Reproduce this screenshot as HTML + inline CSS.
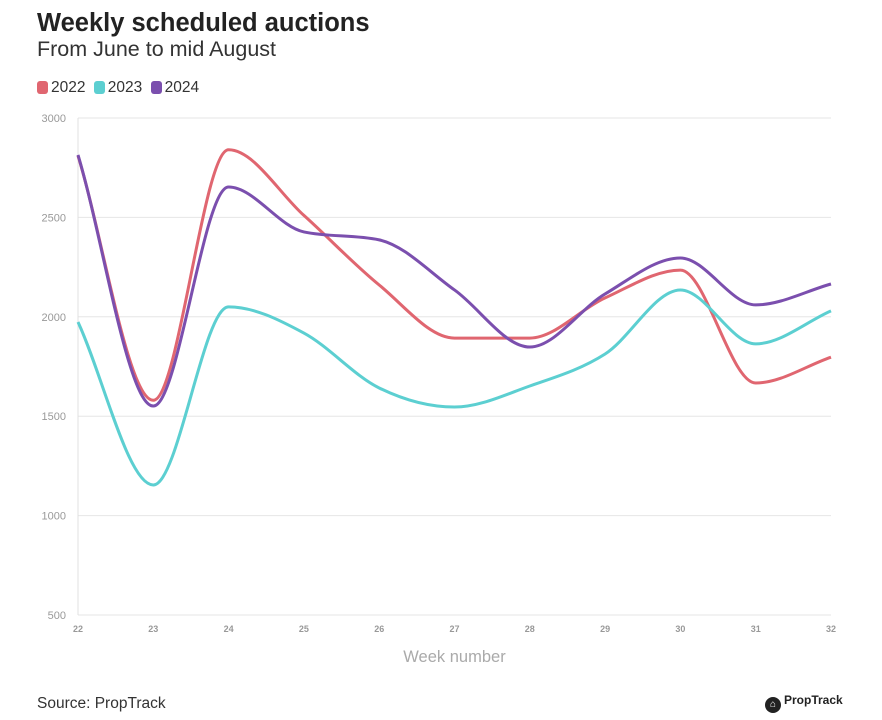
<!DOCTYPE html>
<html><head><meta charset="utf-8"><style>
body{margin:0;background:#fff;font-family:"Liberation Sans",sans-serif;}
#wrap{position:relative;width:882px;height:720px;overflow:hidden;}
.t{position:absolute;white-space:nowrap;}
</style></head><body>
<div id="wrap">
<div class="t" style="left:37px;top:9px;font-size:25.5px;font-weight:bold;color:#222;">Weekly scheduled auctions</div>
<div class="t" style="left:37px;top:37px;font-size:21.5px;color:#333;">From June to mid August</div>
<div class="t" style="left:37px;top:79px;font-size:15.5px;color:#333;">
<span><span style="display:inline-block;width:11px;height:13px;border-radius:3px;background:#e06670;vertical-align:-2px;margin-right:3px"></span>2022</span>
<span style="margin-left:4px"><span style="display:inline-block;width:11px;height:13px;border-radius:3px;background:#5ccfd1;vertical-align:-2px;margin-right:3px"></span>2023</span>
<span style="margin-left:4px"><span style="display:inline-block;width:11px;height:13px;border-radius:3px;background:#7b4fae;vertical-align:-2px;margin-right:3px"></span>2024</span>
</div>
<svg id="chart" width="882" height="720" style="position:absolute;left:0;top:0"></svg>
<div class="t" style="left:37px;top:695px;font-size:15.5px;color:#333;">Source: PropTrack</div>
<div class="t" style="left:765px;top:693px;font-size:12px;font-weight:bold;color:#222;"><span style="display:inline-block;width:16px;height:16px;border-radius:50%;background:#222;color:#fff;font-size:10px;text-align:center;line-height:16px;vertical-align:-3px;margin-right:3px">⌂</span>PropTrack</div>
</div>
<script>
const weeks=[22,23,24,25,26,27,28,29,30,31,32];
const s2022=[2810,1580,2840,2510,2160,1893,1893,2095,2235,1667,1797];
const s2023=[1974,1154,2050,1918,1642,1546,1652,1813,2135,1864,2030];
const s2024=[2814,1551,2653,2427,2387,2135,1848,2115,2296,2060,2165];
const yTicks=[500,1000,1500,2000,2500,3000];
const svg=document.getElementById('chart');const NS='http://www.w3.org/2000/svg';
const X0=78,X1=831,Y0=615,Y1=118;
const x=v=>X0+(v-22)/(32-22)*(X1-X0);
const y=v=>Y0-(v-500)/(3000-500)*(Y0-Y1);
function mk(t,a){const e=document.createElementNS(NS,t);for(const k in a)e.setAttribute(k,a[k]);svg.appendChild(e);return e;}
yTicks.forEach(v=>{
 const l=mk('line',{x1:X0,x2:X1,y1:y(v),y2:y(v),stroke:'#e6e6e6','stroke-width':1});
 
 
 const t=mk('text',{x:X0-12,y:y(v)+4,'text-anchor':'end','font-size':11,fill:'#999','font-family':'Liberation Sans'});t.textContent=v;
 
 
});
const ax=mk('line',{x1:X0,x2:X0,y1:Y1,y2:Y0,stroke:'#e0e0e0'});


weeks.forEach(w=>{
 const t=mk('text',{x:x(w),y:Y0+17,'text-anchor':'middle','font-size':9,'font-weight':'bold',fill:'#999','font-family':'Liberation Sans'});t.textContent=w;
 
 
});
const xt=mk('text',{x:(X0+X1)/2,y:662,'text-anchor':'middle','font-size':16.5,fill:'#aaa','font-family':'Liberation Sans'});xt.textContent='Week number';


function monotone(px,py){
 const n=px.length,d=[],m=[];
 for(let i=0;i<n-1;i++)d.push((py[i+1]-py[i])/(px[i+1]-px[i]));
 for(let i=0;i<n;i++){
  if(i==0)m.push(d[0]);else if(i==n-1)m.push(d[n-2]);
  else{const a=d[i-1],b=d[i];if(a*b<=0)m.push(0);else{const h0=px[i]-px[i-1],h1=px[i+1]-px[i];const p=(a*h1+b*h0)/(h0+h1);m.push((Math.sign(a)+Math.sign(b))*Math.min(Math.abs(a),Math.abs(b),0.5*Math.abs(p)));}}
 }
 let s='M'+px[0]+','+py[0];
 for(let i=0;i<n-1;i++){const h=(px[i+1]-px[i])/3;s+=' C'+(px[i]+h)+','+(py[i]+m[i]*h)+' '+(px[i+1]-h)+','+(py[i+1]-m[i+1]*h)+' '+px[i+1]+','+py[i+1];}
 return s;
}
[[s2022,'#e06670','line-2022'],[s2023,'#5ccfd1','line-2023'],[s2024,'#7b4fae','line-2024']].forEach(([s,c,n])=>{
 const p=mk('path',{d:monotone(weeks.map(x),s.map(y)),fill:'none',stroke:c,'stroke-width':3,'stroke-linejoin':'round'});
 
 
});
</script>
</body></html>
